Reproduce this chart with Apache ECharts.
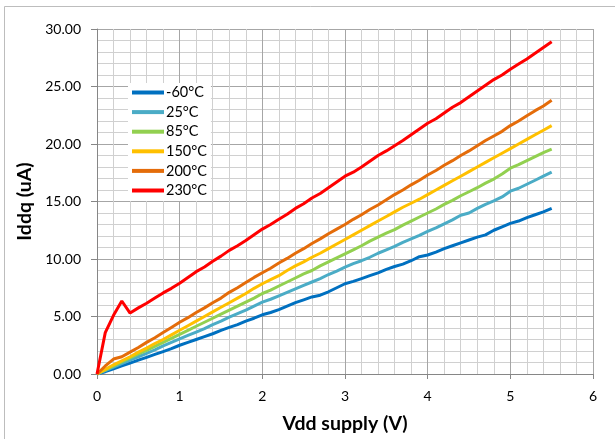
<!DOCTYPE html>
<html>
<head>
<meta charset="utf-8">
<script src="https://cdn.jsdelivr.net/npm/echarts@6/dist/echarts.min.js"></script>
<style>
html,body{margin:0;padding:0;background:#fff;}
#chart{width:615px;height:439px;}
</style>
</head>
<body>
<div id="chart"></div>
<script>
const voltage = [0,0.1,0.2,0.3,0.4,0.5,0.6,0.7,0.8,0.9,1.0,1.1,1.2,1.3,1.4,1.5,1.6,1.7,1.8,1.9,2.0,2.1,2.2,2.3,2.4,2.5,2.6,2.7,2.8,2.9,3.0,3.1,3.2,3.3,3.4,3.5,3.6,3.7,3.8,3.9,4.0,4.1,4.2,4.3,4.4,4.5,4.6,4.7,4.8,4.9,5.0,5.1,5.2,5.3,5.4,5.5];
const seriesNames = ['-60°C','25°C','85°C','150°C','200°C','230°C'];
const tM60 = [0,0.2,0.45,0.7,0.95,1.2,1.45,1.7,1.95,2.2,2.5,2.75,3.0,3.25,3.5,3.8,4.05,4.3,4.6,4.85,5.15,5.35,5.6,5.9,6.2,6.45,6.7,6.85,7.15,7.5,7.85,8.05,8.3,8.55,8.8,9.1,9.35,9.55,9.85,10.2,10.35,10.6,10.9,11.15,11.4,11.65,11.9,12.1,12.5,12.8,13.1,13.3,13.6,13.85,14.1,14.4];
const t25 = [0,0.3,0.6,0.9,1.2,1.5,1.8,2.1,2.45,2.75,3.05,3.35,3.65,3.95,4.3,4.6,4.95,5.25,5.55,5.9,6.25,6.5,6.8,7.1,7.4,7.7,8.0,8.3,8.65,8.95,9.3,9.6,9.85,10.15,10.5,10.8,11.1,11.45,11.75,12.05,12.4,12.7,13.05,13.4,13.8,14.0,14.4,14.75,15.05,15.4,15.9,16.15,16.5,16.85,17.2,17.55];
const t85 = [0,0.35,0.7,1.05,1.4,1.75,2.05,2.4,2.75,3.1,3.45,3.8,4.15,4.5,4.85,5.2,5.55,5.9,6.25,6.6,7.0,7.3,7.65,8.0,8.35,8.7,9.0,9.4,9.75,10.1,10.45,10.8,11.15,11.55,11.9,12.25,12.55,12.95,13.3,13.65,14.0,14.35,14.75,15.1,15.5,15.85,16.2,16.6,16.95,17.4,17.9,18.2,18.55,18.9,19.25,19.55];
const t150 = [0,0.4,0.8,1.15,1.5,1.9,2.25,2.65,3.0,3.4,3.8,4.2,4.6,5.0,5.4,5.8,6.2,6.6,7.0,7.45,7.85,8.2,8.55,9.0,9.4,9.75,10.15,10.5,10.9,11.3,11.7,12.1,12.5,12.9,13.3,13.7,14.1,14.5,14.85,15.2,15.6,16.0,16.4,16.8,17.2,17.6,18.0,18.4,18.8,19.2,19.6,20.0,20.4,20.8,21.2,21.6];
const t200 = [0,0.7,1.3,1.5,1.9,2.3,2.75,3.15,3.6,4.05,4.5,4.9,5.35,5.75,6.2,6.6,7.1,7.5,7.95,8.4,8.8,9.2,9.65,10.05,10.5,10.9,11.35,11.75,12.2,12.6,13.0,13.45,13.85,14.3,14.7,15.15,15.6,16.0,16.45,16.85,17.3,17.7,18.15,18.55,19.0,19.4,19.85,20.3,20.7,21.1,21.6,22.0,22.45,22.9,23.3,23.8];
const t230 = [0,3.6,5.1,6.35,5.3,5.75,6.15,6.6,7.05,7.45,7.9,8.4,8.9,9.3,9.8,10.25,10.75,11.15,11.6,12.1,12.6,13.0,13.45,13.9,14.4,14.8,15.3,15.7,16.2,16.7,17.2,17.55,18.0,18.5,19.0,19.4,19.85,20.3,20.8,21.3,21.8,22.2,22.7,23.2,23.6,24.1,24.6,25.1,25.6,26.0,26.5,26.95,27.4,27.9,28.4,28.9];
const allSeries = [tM60, t25, t85, t150, t200, t230];
const colors = ['#0070C0','#4BACC6','#92D050','#FFC000','#E46C0A','#FF0000'];

const FONT = 'Lato, "Liberation Sans", sans-serif';
const chart = echarts.init(document.getElementById('chart'), null, {renderer:'canvas'});
chart.setOption({
  animation: false,
  backgroundColor: '#fff',
  graphic: [{
    type: 'rect', silent: true, z: -10,
    shape: {x: 4.5, y: 6.5, width: 800, height: 800},
    style: {fill: 'none', stroke: '#BDBDBD', lineWidth: 1}
  }],
  grid: {left: 97, top: 29, right: 22, bottom: 65, containLabel: false, outerBoundsMode: 'none'},
  legend: {
    orient: 'vertical', left: 128, top: 83,
    backgroundColor: '#fff',
    padding: [2, 4, 3, 4],
    itemGap: 4.6, itemWidth: 32, itemHeight: 4,
    icon: 'rect',
    textStyle: {fontFamily: FONT, fontSize: 14.5, color: '#000', lineHeight: 15, padding: [0,0,0,-3]},
    data: seriesNames
  },
  xAxis: {
    type: 'value', min: 0, max: 6, interval: 1,
    name: 'Vdd supply (V)', nameLocation: 'middle', nameGap: 40,
    nameTextStyle: {fontFamily: FONT, fontSize: 19.5, fontWeight: 'bold', color: '#000'},
    axisLine: {show: true, lineStyle: {color: '#868686', width: 1}},
    axisTick: {show: true, length: 5, lineStyle: {color: '#868686'}},
    axisLabel: {margin: 15, fontFamily: FONT, fontSize: 14, color: '#000'},
    splitLine: {show: true, lineStyle: {color: '#A6A6A6', width: 1}},
    minorTick: {show: false, splitNumber: 5},
    minorSplitLine: {show: true, lineStyle: {color: '#D0D0D0', width: 1}}
  },
  yAxis: {
    type: 'value', min: 0, max: 30, interval: 5,
    name: 'Iddq (uA)', nameLocation: 'middle', nameGap: 60, nameRotate: 90,
    nameTextStyle: {fontFamily: FONT, fontSize: 19.5, fontWeight: 'bold', color: '#000'},
    axisLine: {show: true, lineStyle: {color: '#868686', width: 1}},
    axisTick: {show: true, length: 6, lineStyle: {color: '#868686'}},
    axisLabel: {margin: 16, fontFamily: FONT, fontSize: 14, color: '#000',
      formatter: v => v.toFixed(2)},
    splitLine: {show: true, lineStyle: {color: '#A6A6A6', width: 1}},
    minorTick: {show: false, splitNumber: 5},
    minorSplitLine: {show: true, lineStyle: {color: '#D0D0D0', width: 1}}
  },
  series: seriesNames.map((name, i) => ({
    name: name, type: 'line',
    data: voltage.map((v, j) => [v, allSeries[i][j]]),
    showSymbol: false, symbol: 'none',
    itemStyle: {color: colors[i]},
    lineStyle: {color: colors[i], width: 3},
    z: 2 + i
  }))
});
</script>
</body>
</html>
